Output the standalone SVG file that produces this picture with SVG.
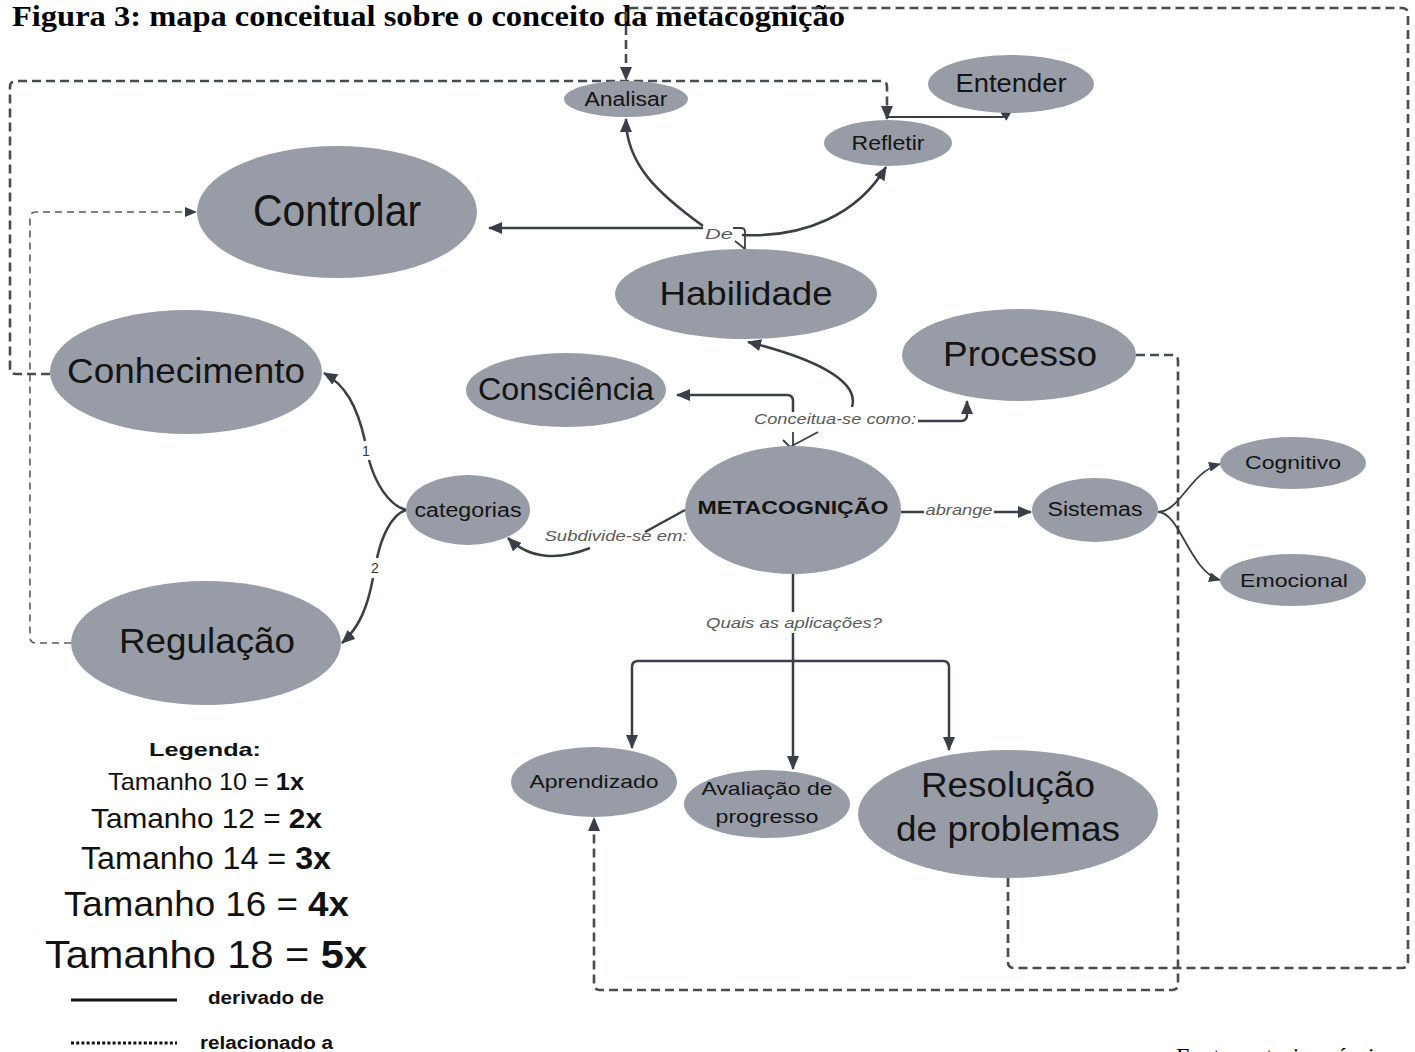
<svg xmlns="http://www.w3.org/2000/svg" width="1415" height="1052" viewBox="0 0 1415 1052">
<style>
.node{fill:#989ca6;stroke:none}
.t{font-family:"Liberation Sans",Arial,sans-serif;fill:#141414;text-anchor:middle}
.lbl{font-family:"Liberation Sans",Arial,sans-serif;font-style:italic;fill:#5a5a5a;text-anchor:middle;font-size:15px}
.num{font-family:"Liberation Sans",Arial,sans-serif;fill:#333;text-anchor:middle;font-size:14px}
.c{fill:none;stroke:#3a3f47;stroke-width:2.5}
.thin{fill:none;stroke:#3a3f47;stroke-width:1.8}
.d{fill:none;stroke:#474b54;stroke-width:2.6;stroke-dasharray:9 5}
.d2{fill:none;stroke:#555a62;stroke-width:1.6;stroke-dasharray:7 5}
.leg{font-family:"Liberation Sans",Arial,sans-serif;fill:#111}
.serif{font-family:"Liberation Serif","Times New Roman",serif;fill:#000}
</style>
<defs>
<marker id="a" viewBox="0 0 14 12" markerWidth="14" markerHeight="12" refX="13" refY="6" orient="auto" markerUnits="userSpaceOnUse"><path d="M0,0 L14,6 L0,12 z" fill="#3a3f47"/></marker>
<marker id="ar" viewBox="0 0 14 12" markerWidth="14" markerHeight="12" refX="13" refY="6" orient="auto-start-reverse" markerUnits="userSpaceOnUse"><path d="M0,0 L14,6 L0,12 z" fill="#3a3f47"/></marker>
<marker id="s" viewBox="0 0 12 10" markerWidth="12" markerHeight="10" refX="11" refY="5" orient="auto" markerUnits="userSpaceOnUse"><path d="M0,0 L12,5 L0,10 z" fill="#3a3f47"/></marker>
</defs>

<text class="serif" x="12" y="26" font-weight="bold" font-size="30" textLength="833" lengthAdjust="spacingAndGlyphs">Figura 3: mapa conceitual sobre o conceito da metacognição</text>

<g id="connectors">
  <path class="d" d="M50 374 L16 374 Q10 374 10 368 L10 87 Q10 81 16 81 L881 81 Q887 81 887 87 L887 119" marker-end="url(#a)"/>
  <path class="d" d="M1008 878 L1008 962 Q1008 968 1014 968 L1402 968 Q1408 968 1408 962 L1408 14 Q1408 8 1402 8 L632 8 Q626 8 626 14 L626 80" marker-end="url(#a)"/>
  <path class="d" d="M1136 355 L1172 355 Q1178 355 1178 361 L1178 984 Q1178 990 1172 990 L600 990 Q594 990 594 984 L594 818" marker-end="url(#a)"/>
  <path class="d2" d="M71 643 L36 643 Q30 643 30 637 L30 218 Q30 212 36 212 L196 212" marker-end="url(#s)"/>

  <path class="c" d="M703 228 L489 228" marker-end="url(#a)"/>
  <path class="c" d="M703 226 C660 195 626 165 626 119" marker-end="url(#a)"/>
  <path class="c" d="M742 235 C805 238 858 214 886 167" marker-end="url(#a)"/>
  <path class="thin" d="M733 228 L741 228 Q745 228 745 232 L745 249 M735 241 L745 249"/>

  <path class="c" d="M852 407 C860 380 812 358 748 342" marker-end="url(#a)"/>
  <path class="c" d="M793 412 L793 401 Q793 395 787 395 L677 395" marker-end="url(#a)"/>
  <path class="c" d="M918 421 L961 421 Q967 421 967 415 L967 401" marker-end="url(#a)"/>
  <path class="thin" d="M793 432 L793 447 M818 432 L790 447 M783 440 L790 447"/>

  <path class="c" d="M685 510 L645 532"/>
  <path class="c" d="M590 548 C560 560 530 560 508 538" marker-end="url(#a)"/>

  <path class="c" d="M406 510 C388 505 375 482 369 460 M365 441 C357 405 345 385 324 373" marker-end="url(#a)"/>
  <path class="c" d="M406 510 C390 515 381 540 377 558 M373 578 C368 605 360 627 342 643" marker-end="url(#a)"/>

  <path class="c" d="M901 512 L924 512"/>
  <path class="c" d="M994 512 L1031 512" marker-end="url(#a)"/>

  <path class="thin" d="M1158 512 C1180 512 1190 472 1220 464" marker-end="url(#s)"/>
  <path class="thin" d="M1158 512 C1180 512 1190 572 1220 580" marker-end="url(#s)"/>

  <path class="c" d="M793 574 L793 612"/>
  <path class="c" d="M793 633 L793 769" marker-end="url(#a)"/>
  <path class="c" d="M632 748 L632 667 Q632 661 638 661 L943 661 Q949 661 949 667 L949 750" marker-start="url(#ar)" marker-end="url(#a)"/>

  <path class="thin" d="M887 117 L1003 117 L1012 110" marker-end="url(#s)"/>

  <text class="lbl" x="719" y="239" textLength="28" lengthAdjust="spacingAndGlyphs">De</text>
  <text class="lbl" x="835" y="424" textLength="162" lengthAdjust="spacingAndGlyphs">Conceitua-se como:</text>
  <text class="lbl" x="616" y="541" textLength="143" lengthAdjust="spacingAndGlyphs">Subdivide-se em:</text>
  <text class="lbl" x="959" y="515" textLength="67" lengthAdjust="spacingAndGlyphs">abrange</text>
  <text class="lbl" x="794" y="628" textLength="176" lengthAdjust="spacingAndGlyphs">Quais as aplicações?</text>
  <text class="num" x="366" y="456">1</text>
  <text class="num" x="375" y="573">2</text>
</g>

<g id="n-analisar"><ellipse class="node" cx="626" cy="99" rx="62" ry="18"/><text class="t" x="626" y="106" font-size="20" textLength="83" lengthAdjust="spacingAndGlyphs">Analisar</text></g>
<g id="n-entender"><ellipse class="node" cx="1011" cy="84" rx="83" ry="29"/><text class="t" x="1011" y="92" font-size="26" textLength="111" lengthAdjust="spacingAndGlyphs">Entender</text></g>
<g id="n-refletir"><ellipse class="node" cx="888" cy="143" rx="64" ry="23"/><text class="t" x="888" y="150" font-size="20" textLength="73" lengthAdjust="spacingAndGlyphs">Refletir</text></g>
<g id="n-controlar"><ellipse class="node" cx="337" cy="212" rx="140" ry="66"/><text class="t" x="337" y="226" font-size="45" textLength="168" lengthAdjust="spacingAndGlyphs">Controlar</text></g>
<g id="n-habilidade"><ellipse class="node" cx="746" cy="294" rx="131" ry="45"/><text class="t" x="746" y="305" font-size="34" textLength="173" lengthAdjust="spacingAndGlyphs">Habilidade</text></g>
<g id="n-conhecimento"><ellipse class="node" cx="186" cy="372" rx="136" ry="62"/><text class="t" x="186" y="383" font-size="35" textLength="238" lengthAdjust="spacingAndGlyphs">Conhecimento</text></g>
<g id="n-consciencia"><ellipse class="node" cx="566" cy="390" rx="100" ry="37"/><text class="t" x="566" y="400" font-size="31" textLength="176" lengthAdjust="spacingAndGlyphs">Consciência</text></g>
<g id="n-processo"><ellipse class="node" cx="1019" cy="355" rx="117" ry="46"/><text class="t" x="1020" y="366" font-size="35" textLength="154" lengthAdjust="spacingAndGlyphs">Processo</text></g>
<g id="n-categorias"><ellipse class="node" cx="468" cy="510" rx="62" ry="35"/><text class="t" x="468" y="517" font-size="20" textLength="107" lengthAdjust="spacingAndGlyphs">categorias</text></g>
<g id="n-metacognicao"><ellipse class="node" cx="793" cy="510" rx="108" ry="64"/><text class="t" x="793" y="514" font-size="19" font-weight="bold" textLength="191" lengthAdjust="spacingAndGlyphs">METACOGNIÇÃO</text></g>
<g id="n-sistemas"><ellipse class="node" cx="1095" cy="510" rx="63" ry="32"/><text class="t" x="1095" y="516" font-size="20" textLength="95" lengthAdjust="spacingAndGlyphs">Sistemas</text></g>
<g id="n-cognitivo"><ellipse class="node" cx="1293" cy="463" rx="73" ry="26"/><text class="t" x="1293" y="469" font-size="19" textLength="96" lengthAdjust="spacingAndGlyphs">Cognitivo</text></g>
<g id="n-emocional"><ellipse class="node" cx="1293" cy="580" rx="73" ry="26"/><text class="t" x="1294" y="587" font-size="19" textLength="108" lengthAdjust="spacingAndGlyphs">Emocional</text></g>
<g id="n-regulacao"><ellipse class="node" cx="206" cy="643" rx="135" ry="62"/><text class="t" x="207" y="653" font-size="35" textLength="176" lengthAdjust="spacingAndGlyphs">Regulação</text></g>
<g id="n-aprendizado"><ellipse class="node" cx="594" cy="782" rx="83" ry="35"/><text class="t" x="594" y="788" font-size="19" textLength="129" lengthAdjust="spacingAndGlyphs">Aprendizado</text></g>
<g id="n-avaliacao"><ellipse class="node" cx="767" cy="804" rx="83" ry="34"/><text class="t" x="767" y="795" font-size="19" textLength="131" lengthAdjust="spacingAndGlyphs">Avaliação de</text><text class="t" x="767" y="823" font-size="19" textLength="103" lengthAdjust="spacingAndGlyphs">progresso</text></g>
<g id="n-resolucao"><ellipse class="node" cx="1008" cy="814" rx="150" ry="64"/><text class="t" x="1008" y="797" font-size="35" textLength="174" lengthAdjust="spacingAndGlyphs">Resolução</text><text class="t" x="1008" y="841" font-size="35" textLength="224" lengthAdjust="spacingAndGlyphs">de problemas</text></g>

<g id="legend">
  <text class="leg" x="205" y="756" font-size="19" font-weight="bold" text-anchor="middle" textLength="112" lengthAdjust="spacingAndGlyphs">Legenda:</text>
  <text class="leg" x="108" y="790" font-size="24" textLength="196" lengthAdjust="spacingAndGlyphs">Tamanho 10 = <tspan font-weight="bold">1x</tspan></text>
  <text class="leg" x="91" y="828" font-size="28" textLength="231" lengthAdjust="spacingAndGlyphs">Tamanho 12 = <tspan font-weight="bold">2x</tspan></text>
  <text class="leg" x="81" y="869" font-size="31" textLength="250" lengthAdjust="spacingAndGlyphs">Tamanho 14 = <tspan font-weight="bold">3x</tspan></text>
  <text class="leg" x="64" y="916" font-size="35" textLength="285" lengthAdjust="spacingAndGlyphs">Tamanho 16 = <tspan font-weight="bold">4x</tspan></text>
  <text class="leg" x="45" y="968" font-size="39" textLength="322" lengthAdjust="spacingAndGlyphs">Tamanho 18 = <tspan font-weight="bold">5x</tspan></text>
  <line x1="71" y1="1000" x2="177" y2="1000" stroke="#111" stroke-width="3"/>
  <text class="leg" x="208" y="1004" font-size="18" font-weight="bold" textLength="116" lengthAdjust="spacingAndGlyphs">derivado de</text>
  <line x1="71" y1="1043" x2="177" y2="1043" stroke="#111" stroke-width="3" stroke-dasharray="3 2.2"/>
  <text class="leg" x="200" y="1049" font-size="18" font-weight="bold" textLength="133" lengthAdjust="spacingAndGlyphs">relacionado a</text>
</g>

<text class="serif" x="1176" y="1064" font-size="24">Fonte: autoria própria</text>
</svg>
